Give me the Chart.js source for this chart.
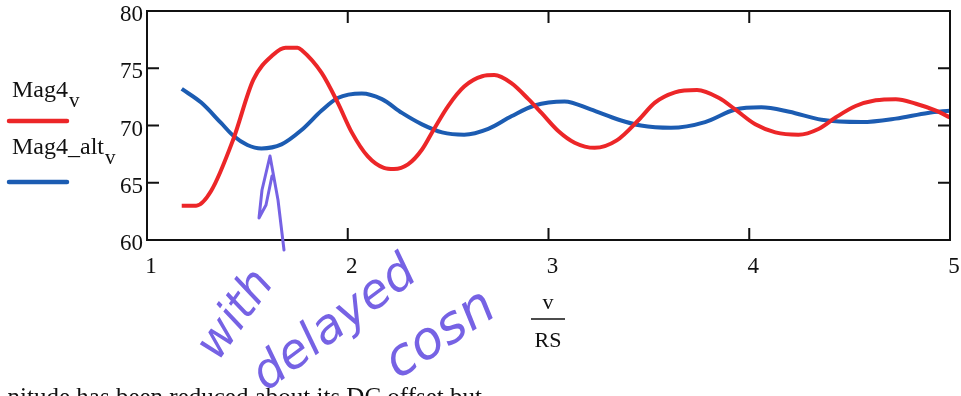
<!DOCTYPE html>
<html>
<head>
<meta charset="utf-8">
<script src="https://cdn.jsdelivr.net/npm/chart.js@4.4.1/dist/chart.umd.min.js"></script>
<style>
  html, body { margin: 0; padding: 0; background: #fff; }
  #wrap { width: 961px; height: 396px; overflow: hidden; }
</style>
</head>
<body>
<div id="wrap"><canvas id="c" width="961" height="396"></canvas></div>
<script>
// ---- data ----
const magX = [1.173, 1.245, 1.32, 1.43, 1.53, 1.63, 1.69, 1.75, 1.77, 1.87, 1.95, 2.02, 2.10, 2.18, 2.23, 2.30, 2.37, 2.43, 2.50, 2.58, 2.67, 2.73, 2.815, 2.90, 2.965, 3.05, 3.13, 3.23, 3.34, 3.45, 3.53, 3.63, 3.74, 3.85, 3.93, 4.03, 4.13, 4.245, 4.345, 4.43, 4.53, 4.63, 4.73, 4.83, 4.93, 5.0];
const magY = [63.0, 63.0, 64.3, 68.8, 74.0, 76.2, 76.8, 76.8, 76.6, 74.6, 72.0, 69.4, 67.3, 66.3, 66.2, 66.6, 67.9, 69.7, 71.7, 73.4, 74.3, 74.4, 73.7, 72.3, 71.1, 69.5, 68.5, 68.05, 68.7, 70.5, 72.0, 72.9, 73.1, 72.4, 71.4, 70.1, 69.4, 69.2, 69.7, 70.7, 71.7, 72.2, 72.3, 71.9, 71.3, 70.7];

const altX = [1.173, 1.27, 1.37, 1.43, 1.50, 1.57, 1.67, 1.77, 1.87, 1.95, 2.07, 2.17, 2.27, 2.37, 2.47, 2.58, 2.70, 2.815, 2.93, 3.08, 3.21, 3.35, 3.46, 3.61, 3.78, 3.93, 4.06, 4.20, 4.36, 4.56, 4.73, 4.89, 5.0];
const altY = [73.2, 72.0, 70.2, 69.1, 68.3, 68.0, 68.35, 69.6, 71.3, 72.4, 72.8, 72.3, 71.1, 70.1, 69.4, 69.2, 69.7, 70.8, 71.75, 72.1, 71.4, 70.5, 70.0, 69.8, 70.3, 71.4, 71.6, 71.2, 70.5, 70.3, 70.6, 71.1, 71.3];

const xTicks = [1, 2, 3, 4, 5];
const yTicks = [60, 65, 70, 75, 80];
const seriesNames = ["Mag4", "Mag4_alt"];
const seriesSub = "v";
const xLabelTop = "v";
const xLabelBottom = "RS";
const note = ["with", "delayed", "cosn"];
const bottomText = "nitude has been reduced about its DC offset but";

const RED = "rgb(236,38,40)";
const BLUE = "rgb(28,92,178)";
const PURPLE = "rgb(118,98,228)";
const SERIF = "'Liberation Serif', 'Times New Roman', serif";

const toPts = (xs, ys) => xs.map((x, i) => ({ x: x, y: ys[i] }));

const decor = {
  id: 'decor',
  afterDraw(chart) {
    const ctx = chart.ctx;
    const a = chart.chartArea;
    const xs = chart.scales.x, ys = chart.scales.y;
    ctx.save();
    // frame
    ctx.strokeStyle = '#111';
    ctx.lineWidth = 2;
    ctx.strokeRect(a.left, a.top, a.right - a.left, a.bottom - a.top);
    // inward ticks
    const tl = 12;
    xTicks.forEach(v => {
      if (v === xTicks[0] || v === xTicks[xTicks.length - 1]) return;
      const p = xs.getPixelForValue(v);
      ctx.beginPath();
      ctx.moveTo(p, a.bottom); ctx.lineTo(p, a.bottom - tl);
      ctx.moveTo(p, a.top); ctx.lineTo(p, a.top + tl);
      ctx.stroke();
    });
    yTicks.forEach(v => {
      if (v === yTicks[0] || v === yTicks[yTicks.length - 1]) return;
      const p = ys.getPixelForValue(v);
      ctx.beginPath();
      ctx.moveTo(a.left, p); ctx.lineTo(a.left + tl, p);
      ctx.moveTo(a.right, p); ctx.lineTo(a.right - tl, p);
      ctx.stroke();
    });

    // legend
    ctx.textAlign = 'left';
    ctx.textBaseline = 'alphabetic';
    const legendItems = [
      { name: seriesNames[0], color: RED, base: 97, line: 121 },
      { name: seriesNames[1], color: BLUE, base: 154, line: 182 }
    ];
    legendItems.forEach(it => {
      ctx.font = "24px " + SERIF;
      ctx.fillStyle = '#111';
      ctx.fillText(it.name, 12, it.base);
      const w = ctx.measureText(it.name).width;
      ctx.font = "21px " + SERIF;
      ctx.fillText(seriesSub, 12 + w + 1, it.base + 10);
      ctx.strokeStyle = it.color;
      ctx.lineWidth = 4.5;
      ctx.lineCap = 'round';
      ctx.beginPath();
      ctx.moveTo(9, it.line); ctx.lineTo(67, it.line);
      ctx.stroke();
    });

    // axis title fraction
    ctx.lineCap = 'butt';
    ctx.fillStyle = '#111';
    ctx.textAlign = 'center';
    ctx.font = "22px " + SERIF;
    ctx.fillText(xLabelTop, 548, 309);
    ctx.strokeStyle = '#111';
    ctx.lineWidth = 1.5;
    ctx.beginPath();
    ctx.moveTo(531, 319); ctx.lineTo(565, 319);
    ctx.stroke();
    ctx.fillText(xLabelBottom, 548, 347);

    // cut-off text at bottom
    ctx.textAlign = 'right';
    ctx.font = "25px " + SERIF;
    ctx.fillText(bottomText, 482, 405);

    // handwritten annotation
    ctx.strokeStyle = PURPLE;
    ctx.fillStyle = PURPLE;
    ctx.lineWidth = 3;
    ctx.lineCap = 'round';
    ctx.lineJoin = 'round';
    ctx.beginPath();
    ctx.moveTo(284, 250); ctx.lineTo(278, 200); ctx.lineTo(270, 156);
    ctx.lineTo(262, 190); ctx.lineTo(259, 218); ctx.lineTo(266, 205); ctx.lineTo(272, 176);
    ctx.stroke();

    ctx.textAlign = 'left';
    const drawRot = (txt, x, y, ang, size) => {
      ctx.save();
      ctx.font = "italic " + size + "px 'DejaVu Sans', sans-serif";
      ctx.translate(x, y);
      ctx.rotate(ang);
      ctx.fillText(txt, 0, 0);
      ctx.restore();
    };
    drawRot(note[0], 218, 362, -0.95, 46);
    drawRot(note[1], 266, 392, -0.64, 48);
    drawRot(note[2], 398, 380, -0.58, 52);
    ctx.restore();
  }
};

new Chart(document.getElementById('c'), {
  type: 'line',
  data: {
    datasets: [
      { label: seriesNames[0] + "_" + seriesSub, data: toPts(magX, magY), borderColor: RED, borderWidth: 4, pointRadius: 0, cubicInterpolationMode: 'monotone', fill: false },
      { label: seriesNames[1] + "_" + seriesSub, data: toPts(altX, altY), borderColor: BLUE, borderWidth: 4, pointRadius: 0, cubicInterpolationMode: 'monotone', fill: false }
    ]
  },
  options: {
    responsive: false,
    animation: false,
    parsing: false,
    layout: { padding: { top: 11, right: 11, left: 0, bottom: 0 } },
    plugins: { legend: { display: false }, tooltip: { enabled: false } },
    scales: {
      x: {
        type: 'linear', min: 1, max: 5,
        afterBuildTicks: s => { s.ticks = xTicks.map(v => ({ value: v })); },
        afterFit: s => { s.height = 156; s.paddingLeft = 0; s.paddingRight = 0; },
        grid: { display: false, drawTicks: false },
        border: { display: false },
        ticks: { color: '#111', font: { family: SERIF, size: 23 }, padding: 13, labelOffset: 4, maxRotation: 0 }
      },
      y: {
        type: 'linear', min: 60, max: 80,
        afterBuildTicks: s => { s.ticks = yTicks.map(v => ({ value: v })); },
        afterFit: s => { s.width = 147; s.paddingTop = 0; s.paddingBottom = 0; },
        grid: { display: false, drawTicks: false },
        border: { display: false },
        ticks: { color: '#111', font: { family: SERIF, size: 23 }, padding: 4, labelOffset: 4 }
      }
    }
  },
  plugins: [decor]
});
</script>
</body>
</html>
